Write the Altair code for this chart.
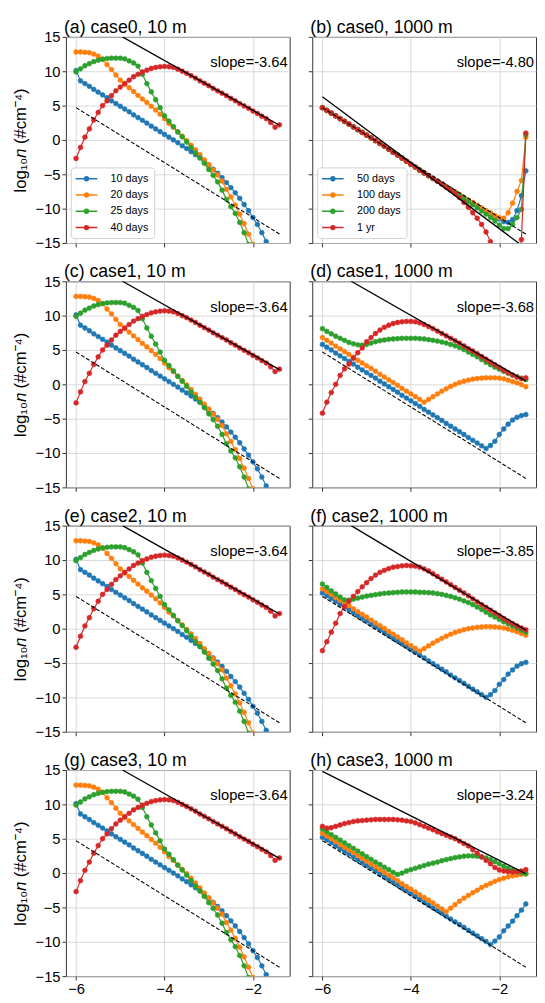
import altair as alt
import pandas as pd

FONT = "Liberation Sans"

X = [-6.0, -5.9, -5.8, -5.7, -5.6, -5.5, -5.4, -5.3, -5.2, -5.1,
     -5.0, -4.9, -4.8, -4.7, -4.6, -4.5, -4.4, -4.3, -4.2, -4.1,
     -4.0, -3.9, -3.8, -3.7, -3.6, -3.5, -3.4, -3.3, -3.2, -3.1,
     -3.0, -2.9, -2.8, -2.7, -2.6, -2.5, -2.4, -2.3, -2.2, -2.1,
     -2.0, -1.9, -1.8, -1.7, -1.6, -1.5, -1.4]

SURFACE_LABELS = ["10 days", "20 days", "25 days", "40 days"]
DEEP_LABELS = ["50 days", "100 days", "200 days", "1 yr"]
COLORS = ["#1f77b4", "#ff7f0e", "#2ca02c", "#d62728"]

# ---- 10 m panels (a), (c), (e), (g) ----
S10_BLUE = [10.1, 8.6, 8.2, 7.8, 7.35, 6.95, 6.55, 6.15, 5.7, 5.3,
            4.9, 4.5, 4.1, 3.65, 3.25, 2.85, 2.45, 2.0, 1.6, 1.2,
            0.8, 0.4, 0.0, -0.4, -0.85, -1.25, -1.7, -2.15, -2.6, -3.1,
            -3.65, -4.25, -4.85, -5.5, -6.2, -6.95, -7.7, -8.5, -9.4, -10.3,
            -11.3, -12.3, -13.5, -14.8, -16.2, -17.7, -19.3]
S10_ORANGE = [12.8, 12.8, 12.75, 12.7, 12.5, 12.2, 11.75, 10.95, 10.25, 9.45,
              8.7, 8.1, 7.6, 7.05, 6.5, 5.95, 5.45, 4.9, 4.35, 3.75,
              3.1, 2.4, 1.85, 1.2, 0.55, -0.1, -0.75, -1.45, -2.15, -2.9,
              -3.6, -4.35, -5.1, -6.0, -7.2, -8.3, -9.5, -10.8, -12.2, -13.7,
              -15.2, -16.8, -18.5, -20.3, -22.2, -24.2, -26.3]
S10_GREEN = [9.9, 10.35, 10.8, 11.1, 11.4, 11.6, 11.75, 11.85, 11.9, 11.9,
             11.9, 11.8, 11.5, 11.2, 10.75, 9.55, 8.2, 7.0, 5.85, 4.7,
             3.5, 2.75, 1.95, 1.15, 0.45, -0.3, -1.1, -1.9, -2.6, -3.4,
             -4.3, -5.15, -6.1, -7.3, -8.65, -9.7, -10.7, -12.0, -13.5, -15.2,
             -17.0, -18.9, -20.9, -23.0, -25.2, -27.5, -29.9]
S10_RED = [-2.7, -1.1, 0.4, 1.6, 2.9, 4.0, 5.0, 5.7, 6.45, 7.15,
           7.7, 8.2, 8.7, 9.2, 9.55, 9.9, 10.15, 10.4, 10.55, 10.65,
           10.7, 10.65, 10.55, 10.3, 10.0, 9.7, 9.35, 9.0, 8.6, 8.25,
           7.9, 7.5, 7.15, 6.8, 6.45, 6.05, 5.7, 5.3, 4.95, 4.6,
           4.2, 3.85, 3.45, 3.1, 2.55, 1.85, 2.2]

# ---- (b) case0, 1000 m ----
B_BLUE = [4.7, 4.3, 3.9, 3.5, 3.1, 2.7, 2.3, 1.9, 1.5, 1.1,
          0.7, 0.3, -0.1, -0.5, -0.9, -1.35, -1.8, -2.2, -2.65, -3.1,
          -3.55, -3.95, -4.4, -4.8, -5.2, -5.6, -6.0, -6.4, -6.8, -7.2,
          -7.6, -8.0, -8.4, -8.8, -9.2, -9.6, -10.0, -10.4, -10.8, -11.2,
          -11.5, -11.9, -12.0, -11.6, -10.3, -8.1, -4.5]
B_ORANGE = [4.7, 4.3, 3.9, 3.5, 3.1, 2.7, 2.3, 1.9, 1.5, 1.1,
            0.7, 0.3, -0.1, -0.5, -0.9, -1.35, -1.8, -2.2, -2.65, -3.1,
            -3.55, -3.95, -4.4, -4.8, -5.2, -5.6, -6.0, -6.4, -6.8, -7.2,
            -7.55, -7.95, -8.35, -8.75, -9.1, -9.5, -9.9, -10.3, -10.6, -11.0,
            -11.3, -11.4, -10.6, -9.2, -7.5, -5.9, 0.4]
B_GREEN = [4.7, 4.3, 3.9, 3.5, 3.1, 2.7, 2.3, 1.9, 1.5, 1.1,
           0.7, 0.3, -0.1, -0.5, -0.9, -1.35, -1.8, -2.2, -2.65, -3.1,
           -3.55, -3.95, -4.4, -4.8, -5.2, -5.6, -6.0, -6.4, -6.85, -7.25,
           -7.7, -8.1, -8.55, -9.0, -9.45, -9.9, -10.35, -10.8, -11.3, -11.8,
           -12.4, -12.9, -12.9, -12.3, -11.3, -10.1, 0.8]
B_RED = [4.7, 4.3, 3.9, 3.5, 3.1, 2.7, 2.3, 1.9, 1.5, 1.1,
         0.7, 0.3, -0.1, -0.5, -0.9, -1.35, -1.8, -2.2, -2.65, -3.1,
         -3.55, -3.95, -4.4, -4.8, -5.2, -5.6, -6.0, -6.4, -6.9, -7.3,
         -7.8, -8.4, -9.1, -9.8, -10.6, -11.4, -12.3, -13.4, -14.8, -16.3,
         -18.0, -19.5, -21.0, -22.0, -22.0, -14.5, 1.0]

# ---- (d) case1, 1000 m ----
D_BLUE = [5.8, 5.4, 5.0, 4.55, 4.15, 3.75, 3.35, 2.95, 2.5, 2.1,
          1.7, 1.3, 0.9, 0.45, 0.05, -0.35, -0.75, -1.15, -1.6, -2.0,
          -2.4, -2.8, -3.2, -3.65, -4.05, -4.45, -4.85, -5.25, -5.7, -6.1,
          -6.5, -6.9, -7.3, -7.75, -8.15, -8.55, -8.95, -9.35, -8.9, -8.3,
          -7.3, -6.5, -5.8, -5.2, -4.8, -4.55, -4.4]
D_ORANGE = [6.8, 6.4, 6.0, 5.55, 5.15, 4.75, 4.35, 3.95, 3.5, 3.1,
            2.7, 2.3, 1.9, 1.45, 1.05, 0.65, 0.25, -0.15, -0.6, -1.0,
            -1.4, -1.8, -2.2, -2.6, -2.2, -1.8, -1.4, -1.0, -0.65, -0.3,
            0.0, 0.25, 0.45, 0.6, 0.75, 0.85, 0.9, 0.95, 0.95, 0.95,
            0.9, 0.8, 0.6, 0.4, 0.2, -0.05, -0.35]
D_GREEN = [8.1, 7.7, 7.35, 7.0, 6.7, 6.4, 6.1, 5.9, 5.75, 5.7,
           5.8, 6.0, 6.2, 6.35, 6.45, 6.55, 6.6, 6.65, 6.7, 6.7,
           6.7, 6.7, 6.65, 6.6, 6.5, 6.4, 6.3, 6.15, 6.0, 5.8,
           5.6, 5.35, 5.05, 4.7, 4.35, 4.0, 3.6, 3.2, 2.85, 2.5,
           2.2, 1.9, 1.6, 1.35, 1.1, 0.9, 0.7]
D_RED = [-4.2, -2.6, -1.2, 0.0, 1.3, 2.25, 2.95, 3.8, 4.6, 5.3,
         6.2, 6.8, 7.4, 7.9, 8.3, 8.6, 8.85, 9.0, 9.1, 9.15,
         9.15, 9.1, 8.95, 8.7, 8.4, 8.1, 7.75, 7.4, 7.05, 6.7,
         6.35, 6.0, 5.6, 5.2, 4.85, 4.45, 4.05, 3.65, 3.25, 2.85,
         2.45, 2.05, 1.7, 1.35, 1.05, 0.8, 0.95]

# ---- (f) case2, 1000 m ----
F_BLUE = [5.2, 4.8, 4.4, 3.95, 3.55, 3.15, 2.75, 2.3, 1.9, 1.5,
          1.1, 0.65, 0.25, -0.15, -0.55, -1.0, -1.4, -1.8, -2.2, -2.6,
          -3.05, -3.45, -3.85, -4.25, -4.7, -5.1, -5.5, -5.9, -6.3, -6.75,
          -7.15, -7.55, -7.95, -8.4, -8.8, -9.2, -9.6, -10.0, -9.6, -9.0,
          -8.1, -7.4, -6.6, -6.0, -5.45, -5.1, -4.9]
F_ORANGE = [5.8, 5.4, 5.0, 4.55, 4.15, 3.75, 3.35, 2.9, 2.5, 2.1,
            1.7, 1.25, 0.85, 0.45, 0.05, -0.4, -0.8, -1.2, -1.6, -2.05,
            -2.45, -2.85, -3.25, -2.9, -2.5, -2.1, -1.75, -1.4, -1.1, -0.8,
            -0.55, -0.35, -0.15, 0.0, 0.1, 0.2, 0.25, 0.3, 0.3, 0.25,
            0.2, 0.1, -0.05, -0.25, -0.45, -0.7, -0.95]
F_GREEN = [6.5, 6.0, 5.5, 5.05, 4.6, 4.2, 4.15, 4.3, 4.45, 4.6,
           4.75, 4.85, 4.95, 5.05, 5.15, 5.2, 5.25, 5.3, 5.35, 5.35,
           5.35, 5.35, 5.3, 5.3, 5.25, 5.2, 5.1, 5.0, 4.85, 4.7,
           4.5, 4.3, 4.05, 3.8, 3.5, 3.15, 2.8, 2.4, 2.0, 1.7,
           1.35, 1.0, 0.7, 0.4, 0.1, -0.2, -0.5]
F_RED = [-3.2, -1.9, -0.5, 0.8, 2.2, 3.2, 4.0, 4.7, 5.4, 6.1,
         6.7, 7.3, 7.8, 8.2, 8.5, 8.75, 8.95, 9.05, 9.15, 9.2,
         9.15, 9.1, 8.95, 8.7, 8.4, 8.0, 7.6, 7.2, 6.8, 6.4,
         6.0, 5.6, 5.2, 4.8, 4.35, 3.9, 3.5, 3.1, 2.7, 2.3,
         1.9, 1.5, 1.1, 0.75, 0.4, 0.1, -0.15]

# ---- (h) case3, 1000 m ----
H_BLUE = [5.2, 4.8, 4.4, 3.95, 3.55, 3.15, 2.75, 2.35, 1.9, 1.5,
          1.1, 0.7, 0.3, -0.15, -0.55, -0.95, -1.35, -1.75, -2.2, -2.6,
          -3.0, -3.4, -3.8, -4.25, -4.65, -5.05, -5.45, -5.85, -6.3, -6.7,
          -7.1, -7.5, -7.9, -8.35, -8.75, -9.15, -9.55, -9.95, -10.4, -9.9,
          -9.3, -8.4, -7.7, -7.0, -6.2, -5.4, -4.5]
H_ORANGE = [5.8, 5.4, 5.0, 4.6, 4.15, 3.75, 3.35, 2.95, 2.55, 2.15,
            1.75, 1.3, 0.9, 0.5, 0.1, -0.3, -0.7, -1.1, -1.55, -1.95,
            -2.35, -2.75, -3.15, -3.55, -3.95, -4.35, -4.8, -5.2, -5.6, -5.1,
            -4.6, -4.1, -3.65, -3.25, -2.85, -2.5, -2.1, -1.8, -1.5, -1.2,
            -0.95, -0.75, -0.55, -0.4, -0.3, -0.2, -0.1]
H_GREEN = [6.4, 6.0, 5.6, 5.2, 4.8, 4.4, 4.0, 3.6, 3.2, 2.8,
           2.4, 2.0, 1.6, 1.25, 0.85, 0.5, 0.1, -0.2, 0.0, 0.3,
           0.5, 0.7, 0.9, 1.1, 1.3, 1.45, 1.6, 1.8, 1.95, 2.1,
           2.25, 2.35, 2.45, 2.5, 2.5, 2.45, 2.35, 2.2, 1.95, 1.65,
           1.35, 1.0, 0.7, 0.45, 0.25, 0.05, -0.1]
H_RED = [6.8, 6.55, 6.6, 6.8, 7.0, 7.2, 7.35, 7.5, 7.6, 7.65,
         7.7, 7.75, 7.8, 7.8, 7.8, 7.8, 7.8, 7.75, 7.7, 7.6,
         7.5, 7.3, 7.05, 6.8, 6.55, 6.3, 6.0, 5.75, 5.5, 5.25,
         5.0, 4.65, 4.3, 3.95, 3.4, 2.9, 2.35, 1.85, 1.35, 0.8,
         0.45, 0.3, 0.2, 0.15, 0.2, 0.3, 0.5]

# ---- reference lines: visible end points ----
DASHED_X = [-6.0, -1.4]
DASHED_Y = [4.7, -13.7]
SOLID_10M_X = [-4.95, -1.4]
SOLID_10M_Y = [15.0, 2.14]
SOLID_B_X = [-6.0, -1.4]
SOLID_B_Y = [6.3, -15.8]
SOLID_D_X = [-5.35, -1.4]
SOLID_D_Y = [15.0, 0.47]
SOLID_F_X = [-5.35, -1.4]
SOLID_F_Y = [15.0, -0.21]
SOLID_H_X = [-6.0, -1.4]
SOLID_H_Y = [14.8, -0.1]

TITLES = ["(a) case0, 10 m", "(b) case0, 1000 m",
          "(c) case1, 10 m", "(d) case1, 1000 m",
          "(e) case2, 10 m", "(f) case2, 1000 m",
          "(g) case3, 10 m", "(h) case3, 1000 m"]
SLOPE_TEXT = ["slope=-3.64", "slope=-4.80",
              "slope=-3.64", "slope=-3.68",
              "slope=-3.64", "slope=-3.85",
              "slope=-3.64", "slope=-3.24"]
Y_TITLE = "log\u2081\u2080\U0001D45B (#cm\u207B\u2074)"

W, H = 228, 210
XDOM = [-6.23, -1.17]
SYMBOL = "M-2,0H2M-0.36,0A0.36,0.36,0,1,1,0.36,0A0.36,0.36,0,1,1,-0.36,0Z"


def make_panel(idx, series, labels, solid_x, solid_y, legend, show_x, left_col):
    xax = alt.Axis(values=[-6, -4, -2], labels=show_x, title=None, format="d")
    if left_col:
        yax = alt.Axis(values=[-15, -10, -5, 0, 5, 10, 15], title=Y_TITLE)
    else:
        yax = alt.Axis(values=[-15, -10, -5, 0, 5, 10, 15], title=None,
                       labelColor="transparent")
    xenc = alt.X("x:Q", scale=alt.Scale(domain=XDOM, nice=False, zero=False), axis=xax)
    yenc = alt.Y("y:Q", scale=alt.Scale(domain=[-15, 15], nice=False, zero=False), axis=yax)
    cscale = alt.Scale(domain=labels, range=COLORS)
    if legend:
        leg = alt.Legend(title=None, orient="bottom-left", offset=5, padding=5,
                         symbolType=SYMBOL, symbolSize=121, symbolStrokeWidth=1.5,
                         symbolOffset=4.5, labelOffset=18, labelFontSize=11,
                         labelFont=FONT, rowPadding=4.6,
                         fillColor="rgba(255,255,255,0.85)", strokeColor="#d0d0d0",
                         cornerRadius=3)
    else:
        leg = None
    layers = []
    for k in range(4):
        df = pd.DataFrame({"x": X, "y": series[k], "series": labels[k]})
        layers.append(
            alt.Chart(df).mark_line(color=COLORS[k], strokeWidth=1.2, clip=True)
            .encode(x=xenc, y=yenc))
        layers.append(
            alt.Chart(df).mark_point(filled=True, size=24, opacity=1, strokeWidth=0.6, clip=True)
            .encode(x=xenc, y=yenc,
                    fill=alt.Fill("series:N", scale=cscale, legend=leg),
                    stroke=alt.Stroke("series:N", scale=cscale, legend=leg)))
    sdf = pd.DataFrame({"x": solid_x, "y": solid_y})
    ddf = pd.DataFrame({"x": DASHED_X, "y": DASHED_Y})
    layers.append(alt.Chart(sdf).mark_line(color="black", strokeWidth=1.3, clip=True)
                  .encode(x=xenc, y=yenc))
    layers.append(alt.Chart(ddf).mark_line(color="black", strokeWidth=1.1,
                                           strokeDash=[4, 2], clip=True)
                  .encode(x=xenc, y=yenc))
    tdf = pd.DataFrame({"t": [SLOPE_TEXT[idx]]})
    layers.append(alt.Chart(tdf).mark_text(align="right", baseline="alphabetic",
                                           fontSize=15, font=FONT, color="black")
                  .encode(text="t:N", x=alt.value(W - 2), y=alt.value(31)))
    return alt.layer(*layers).properties(
        width=W, height=H,
        title=alt.TitleParams(TITLES[idx], anchor="start", frame="group", dx=-2,
                              offset=-7))


S10 = [S10_BLUE, S10_ORANGE, S10_GREEN, S10_RED]
DEEP = [[B_BLUE, B_ORANGE, B_GREEN, B_RED],
        [D_BLUE, D_ORANGE, D_GREEN, D_RED],
        [F_BLUE, F_ORANGE, F_GREEN, F_RED],
        [H_BLUE, H_ORANGE, H_GREEN, H_RED]]
SOLIDS = [(SOLID_B_X, SOLID_B_Y), (SOLID_D_X, SOLID_D_Y),
          (SOLID_F_X, SOLID_F_Y), (SOLID_H_X, SOLID_H_Y)]

panels = []
for r in range(4):
    last = r == 3
    panels.append(make_panel(2 * r, S10, SURFACE_LABELS, SOLID_10M_X, SOLID_10M_Y,
                             r == 0, last, True))
    panels.append(make_panel(2 * r + 1, DEEP[r], DEEP_LABELS, SOLIDS[r][0], SOLIDS[r][1],
                             r == 0, last, False))

chart = (alt.concat(*panels, columns=2, bounds="flush",
                    spacing={"row": 39, "column": 23})
         .resolve_scale(fill="independent", stroke="independent")
         .properties(padding={"left": 3, "top": 1, "right": 0, "bottom": 0})
         .configure(font=FONT)
         .configure_view(stroke="#333333", strokeWidth=1)
         .configure_axis(gridColor="#cfcfcf", gridWidth=0.8, domain=False,
                         tickColor="#333333", tickSize=4, tickWidth=1,
                         labelFontSize=15, labelColor="black", labelFont=FONT,
                         labelPadding=2, titleFont=FONT, titleFontSize=17,
                         titleFontWeight="normal", titleColor="black", titlePadding=6)
         .configure_title(font=FONT, fontSize=18, fontWeight="normal", color="black"))

chart.save("out.html", embed_options={"renderer": "svg", "actions": False})
